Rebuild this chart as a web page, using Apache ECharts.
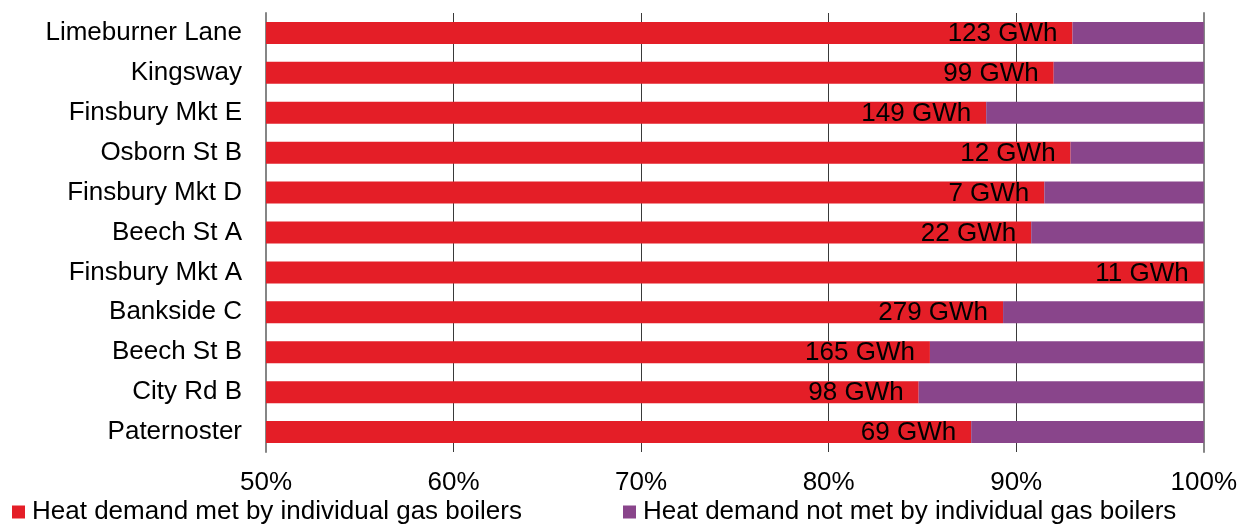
<!DOCTYPE html>
<html>
<head>
<meta charset="utf-8">
<title>Heat demand met by individual gas boilers</title>
<script src="https://cdn.jsdelivr.net/npm/echarts@6/dist/echarts.min.js"></script>
<style>
  html, body { margin: 0; padding: 0; background: #ffffff; }
  #chart { width: 1240px; height: 525px; }
</style>
</head>
<body>
<div id="chart"></div>
<script>
// Heat networks, listed top to bottom
const categories = [
  'Limeburner Lane', 'Kingsway', 'Finsbury Mkt E', 'Osborn St B', 'Finsbury Mkt D',
  'Beech St A', 'Finsbury Mkt A', 'Bankside C', 'Beech St B', 'City Rd B', 'Paternoster'
];

// Share of heat demand met by individual gas boilers (%)
const metShare = [93.0, 92.0, 88.4, 92.9, 91.5, 90.8, 100.0, 89.3, 85.4, 84.8, 87.6];

// Share of heat demand not met by individual gas boilers (%)
const notMetShare = [7.0, 8.0, 11.6, 7.1, 8.5, 9.2, 0.0, 10.7, 14.6, 15.2, 12.4];

// Annual heat demand of each network (GWh)
const demandGWh = [123, 99, 149, 12, 7, 22, 11, 279, 165, 98, 69];

// Value axis tick labels
const tickLabels = ['50%', '60%', '70%', '80%', '90%', '100%'];

const FONT = '"Liberation Sans", Arial, sans-serif';
const FONT_SIZE = 26;
const RED = '#e41e27';
const PURPLE = '#89458b';

const chart = echarts.init(document.getElementById('chart'), null, { renderer: 'canvas' });

chart.setOption({
  animation: false,
  backgroundColor: '#ffffff',
  textStyle: { fontFamily: FONT },
  grid: { left: 266, right: 36, top: 13, bottom: 73, containLabel: false },
  legend: [
    {
      data: ['Heat demand met by individual gas boilers'],
      left: 12, top: 499,
      icon: 'rect', itemWidth: 13, itemHeight: 13, itemGap: 0,
      textStyle: { fontFamily: FONT, fontSize: FONT_SIZE, color: '#000000', padding: [0, 0, 0, 2] },
      padding: 0
    },
    {
      data: ['Heat demand not met by individual gas boilers'],
      left: 623, top: 499,
      icon: 'rect', itemWidth: 13, itemHeight: 13, itemGap: 0,
      textStyle: { fontFamily: FONT, fontSize: FONT_SIZE, color: '#000000', padding: [0, 0, 0, 2] },
      padding: 0
    }
  ],
  xAxis: {
    type: 'value',
    min: 50,
    max: 100,
    interval: 10,
    axisLine: { show: false },
    axisTick: { show: false },
    axisLabel: {
      margin: 18,
      fontFamily: FONT,
      fontSize: FONT_SIZE,
      color: '#000000',
      formatter: function (v) { return tickLabels[Math.round((v - 50) / 10)]; }
    },
    splitLine: { show: true, lineStyle: { color: '#3a3a3a', width: 1 } }
  },
  yAxis: [
    {
      type: 'category',
      data: categories,
      inverse: true,
      axisLine: { show: true, lineStyle: { color: '#868686', width: 2 } },
      axisTick: { show: false },
      axisLabel: { margin: 24, fontFamily: FONT, fontSize: FONT_SIZE, color: '#000000' }
    },
    {
      type: 'category',
      data: categories,
      inverse: true,
      position: 'right',
      axisLine: { show: true, lineStyle: { color: '#868686', width: 2 } },
      axisTick: { show: false },
      axisLabel: { show: false }
    }
  ],
  series: [
    {
      name: 'Heat demand met by individual gas boilers',
      type: 'bar',
      stack: 'share',
      barWidth: 22,
      data: metShare,
      itemStyle: { color: RED },
      label: {
        show: true,
        position: 'insideRight',
        distance: 15,
        offset: [0, 1],
        fontFamily: FONT,
        fontSize: FONT_SIZE,
        color: '#000000',
        formatter: function (p) { return demandGWh[p.dataIndex] + ' GWh'; }
      }
    },
    {
      name: 'Heat demand not met by individual gas boilers',
      type: 'bar',
      stack: 'share',
      barWidth: 22,
      data: notMetShare,
      itemStyle: { color: PURPLE }
    }
  ]
});
</script>
</body>
</html>
